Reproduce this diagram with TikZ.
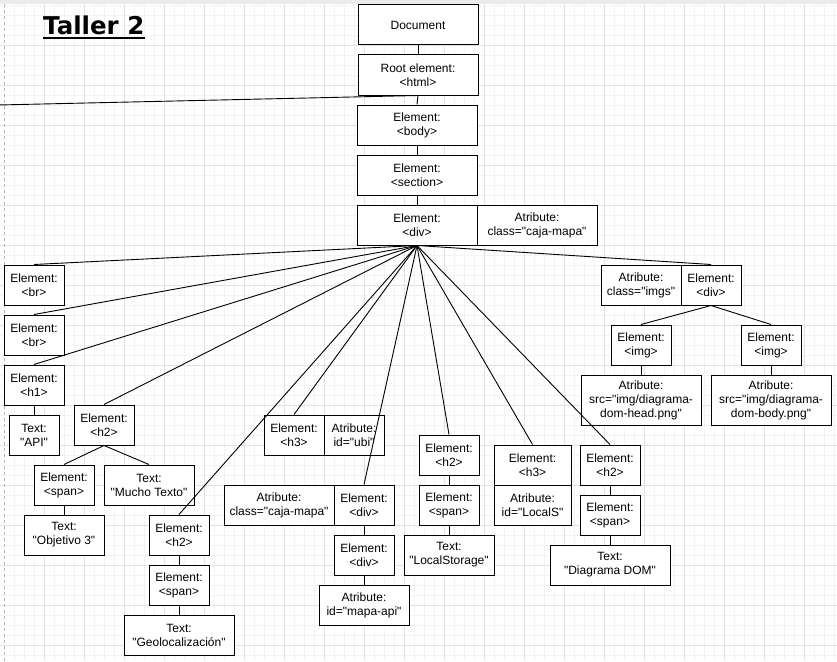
\documentclass[tikz,border=0pt]{standalone}
\usepackage{fontspec}
\newfontfamily\labelfont{Liberation Sans}
\newfontfamily\titlefont{DejaVu Sans}
\usetikzlibrary{positioning}
\definecolor{gridmin}{HTML}{F3F3F3}
\definecolor{gridmaj}{HTML}{E2E2E2}
\definecolor{pageedge}{HTML}{B8B8B8}

\begin{document}
\begin{tikzpicture}[x=1pt, y=-1pt,
    every node/.style={font=\labelfont\fontsize{12}{14}\selectfont},
    box/.style={draw=black, fill=white, line width=1pt, align=center,
      minimum width=60pt, minimum height=40pt, inner sep=1pt},
    link/.style={draw=black, line width=0.9pt}]
  \useasboundingbox (0,0) rectangle (837,661);
  % background grid
  \foreach \x in {4,14,...,834} \draw[gridmin, line width=0.8pt] (\x,0) -- (\x,661);
  \foreach \y in {5,15,...,655} \draw[gridmin, line width=0.8pt] (0,\y) -- (837,\y);
  \foreach \x in {44,84,...,834} \draw[gridmaj, line width=0.8pt] (\x,0) -- (\x,661);
  \foreach \y in {45,85,...,645} \draw[gridmaj, line width=0.8pt] (0,\y) -- (837,\y);
  \fill[gridmaj!70] (0,0) rectangle (837,4);
  \draw[pageedge, dashed, line width=0.8pt] (4,4) -- (4,661);

  \node[font=\titlefont\bfseries\fontsize{24.5}{27}\selectfont, inner sep=0pt, anchor=base west]
    (title) at (43,34.5) {Taller 2};
  \draw[line width=2pt] ([yshift=-3.5pt]title.base west) -- ([yshift=-3.5pt]title.base east);

  % main chain
  \node[box, minimum width=120pt] (doc) at (418,25) {Document};
  \node[box, minimum width=120pt] (html) at (418,75) {Root element:\\<html>};
  \node[box, minimum width=120pt] (body) at (417,125) {Element:\\<body>};
  \node[box, minimum width=120pt] (section) at (417,175) {Element:\\<section>};
  \node[box, minimum width=120pt] (mapdiv) at (417,225) {Element:\\<div>};
  \node[box, minimum width=120pt] (mapclass) at (537,225) {Atribute:\\class="caja-mapa"};
  \coordinate (offleft) at (-2,105);

  % left column
  \node[box] (br1) at (34,285) {Element:\\<br>};
  \node[box] (br2) at (34,335) {Element:\\<br>};
  \node[box] (h1) at (34,385) {Element:\\<h1>};
  \node[box, minimum width=50pt] (apitext) at (34,435) {Text:\\"API"};
  \node[box] (h2txt) at (104,425) {Element:\\<h2>};
  \node[box] (spantxt) at (64,485) {Element:\\<span>};
  \node[box, minimum width=90pt] (mucho) at (149,485) {Text:\\"Mucho Texto"};
  \node[box, minimum width=80pt] (objetivo) at (64,535) {Text:\\"Objetivo 3"};
  \node[box] (h2geo) at (179,535) {Element:\\<h2>};
  \node[box] (spangeo) at (179,585) {Element:\\<span>};
  \node[box, minimum width=110pt] (geotext) at (179,635) {Text:\\"Geolocalización"};

  % map group
  \node[box] (h3ubi) at (294,435) {Element:\\<h3>};
  \node[box] (ubiid) at (354,435) {Atribute:\\id="ubi"};
  \node[box, minimum width=110pt] (apiclass) at (279,505) {Atribute:\\class="caja-mapa"};
  \node[box] (apidiv) at (364,505) {Element:\\<div>};
  \node[box] (innerdiv) at (364,555) {Element:\\<div>};
  \node[box, minimum width=90pt] (mapaid) at (364,605) {Atribute:\\id="mapa-api"};

  % storage group
  \node[box] (h2ls) at (449,455) {Element:\\<h2>};
  \node[box] (spanls) at (449,505) {Element:\\<span>};
  \node[box, minimum width=90pt] (lstext) at (449,555) {Text:\\"LocalStorage"};
  \node[box, minimum width=77pt] (h3ls) at (532.5,465) {Element:\\<h3>};
  \node[box, minimum width=77pt] (lsid) at (532.5,505) {Atribute:\\id="LocalS"};

  % dom group
  \node[box] (h2dom) at (610,465) {Element:\\<h2>};
  \node[box] (spandom) at (610,515) {Element:\\<span>};
  \node[box, minimum width=120pt] (domtext) at (610,565) {Text:\\"Diagrama DOM"};

  % images group
  \node[box, minimum width=80pt] (imgsclass) at (641,285) {Atribute:\\class="imgs"};
  \node[box] (imgsdiv) at (711,285) {Element:\\<div>};
  \node[box] (imghead) at (641,345) {Element:\\<img>};
  \node[box] (imgbody) at (771,345) {Element:\\<img>};
  \node[box, minimum width=120pt, minimum height=50pt] (srchead) at (641,400)
    {Atribute:\\src="img/diagrama-\\dom-head.png"};
  \node[box, minimum width=120pt, minimum height=50pt] (srcbody) at (771,400)
    {Atribute:\\src="img/diagrama-\\dom-body.png"};

  % connectors
  \draw[link] (html.south) -- (offleft);
  \foreach \a/\b in {doc/html, html/body, body/section, section/mapdiv,
                     h1/apitext, h2txt/spantxt, h2txt/mucho, spantxt/objetivo,
                     h2geo/spangeo, spangeo/geotext, apidiv/innerdiv, innerdiv/mapaid,
                     h2ls/spanls, spanls/lstext, h2dom/spandom, spandom/domtext,
                     imgsdiv/imghead, imgsdiv/imgbody, imghead/srchead, imgbody/srcbody}
    \draw[link] (\a.south) -- (\b.north);
  \foreach \n in {br1, br2, h1, h2txt, h2geo, h3ubi, apidiv, h2ls, h3ls, h2dom, imgsdiv}
    \draw[link] (mapdiv.south) -- (\n.north);
\end{tikzpicture}
\end{document}
